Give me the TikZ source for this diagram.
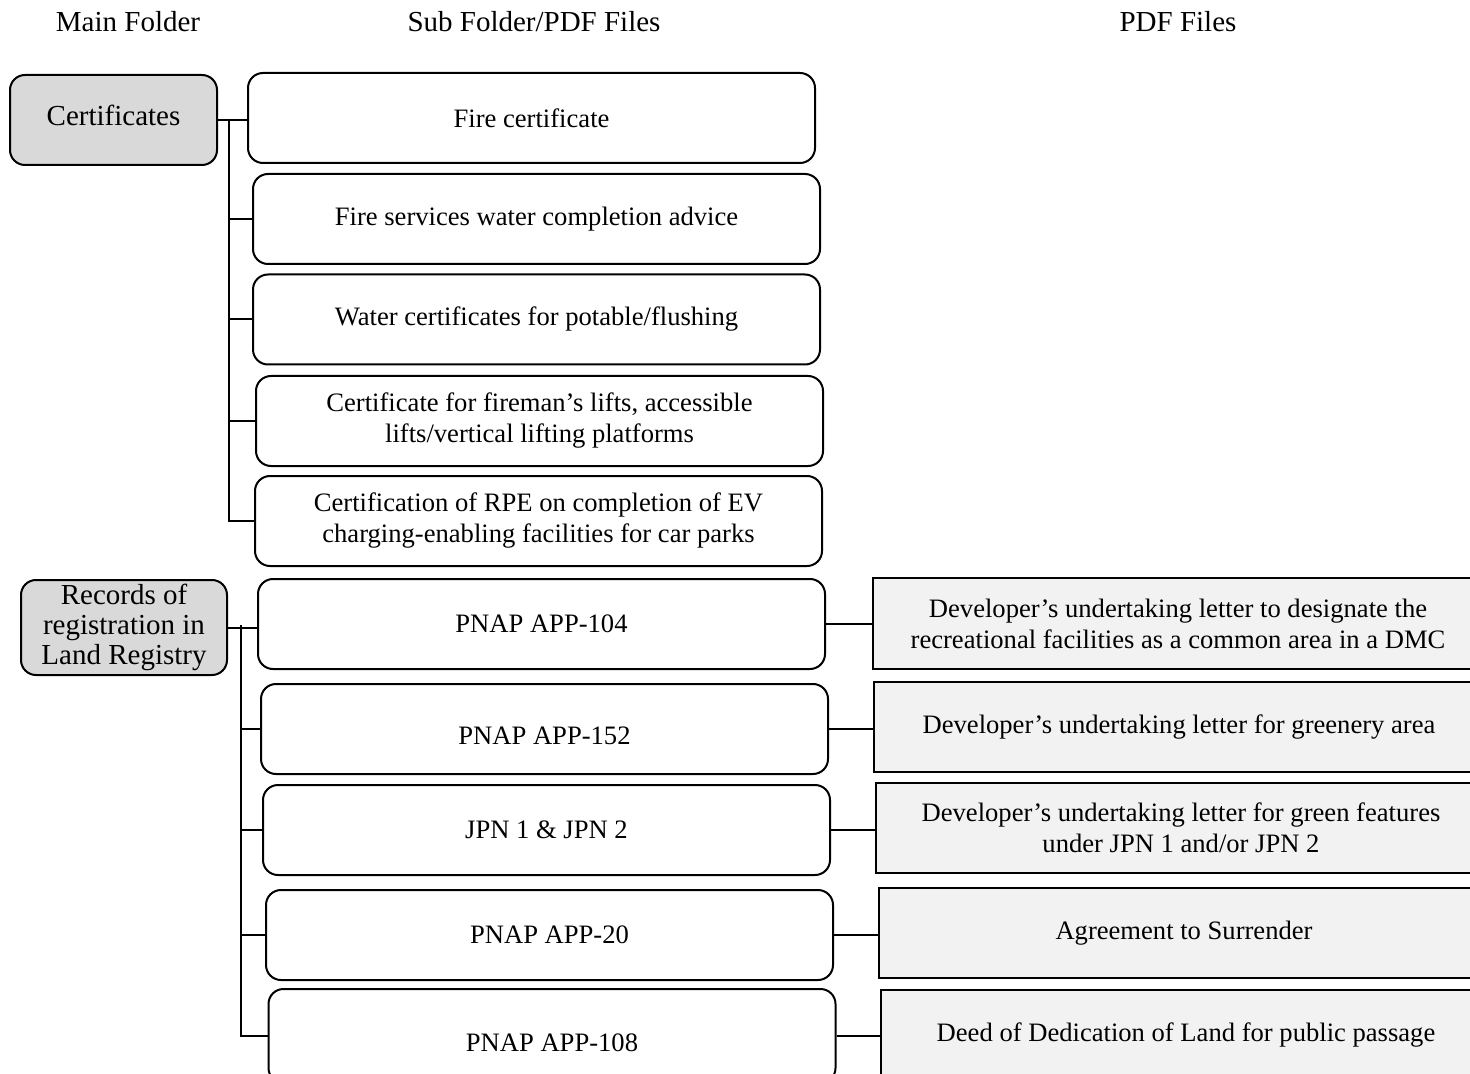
\documentclass[tikz,border=0pt]{standalone}
\usepackage{fontspec}
\setmainfont{Liberation Serif}
\usepackage{xcolor}
\definecolor{mainfill}{HTML}{D9D9D9}
\definecolor{pdffill}{HTML}{F2F2F2}
\begin{document}
\begin{tikzpicture}[x=0.5pt,y=-0.5pt]
			\tikzstyle{header} = [font=\fontsize{14.5}{15}\selectfont]
			\tikzstyle{mainbox} = [draw=black,line width=1pt,fill=mainfill,rounded corners=7.5pt,align=center,inner sep=0pt,font=\fontsize{14.5}{15}\selectfont]
			\tikzstyle{subbox} = [draw=black,line width=1pt,fill=white,rounded corners=7.5pt,align=center,inner sep=0pt,minimum width=283.5pt,minimum height=45pt,font=\fontsize{13.3}{15.5}\selectfont]
			\tikzstyle{pdfbox} = [draw=black,line width=1pt,fill=pdffill,align=center,inner sep=0pt,minimum width=305pt,minimum height=45pt,font=\fontsize{13.3}{15.5}\selectfont]
			\tikzstyle{edge} = [-,line width=1pt]
			\useasboundingbox (0,0) rectangle (1470,1074);
			\clip (0,0) rectangle (1470,1074);
			% column titles
			\node[header] (h1) at (128,22) {Main Folder};
			\node[header] (h2) at (534,22) {Sub Folder/PDF Files};
			\node[header] (h3) at (1178,22) {PDF Files};
			% main folders
			\node[mainbox,minimum width=103.5pt,minimum height=45pt,text depth=5pt] (m1) at (113.5,120) {Certificates};
			\node[mainbox,minimum width=103pt,minimum height=47.5pt] (m2) at (124,627.5) {Records of\\registration in\\Land Registry};
			% sub folders
			\node[subbox] (s1) at (531.5,118) {Fire certificate};
			\node[subbox] (s2) at (536.5,219) {Fire services water completion advice};
			\node[subbox] (s3) at (536.5,319.5) {Water certificates for potable/flushing};
			\node[subbox] (s4) at (539.5,421) {Certificate for fireman's lifts, accessible\\lifts/vertical lifting platforms};
			\node[subbox] (s5) at (538.5,521) {Certification of RPE on completion of EV\\charging-enabling facilities for car parks};
			\node[subbox] (s6) at (541.5,624) {PNAP APP-104};
			\node[subbox,text height=16pt] (s7) at (544.5,729) {PNAP APP-152};
			\node[subbox] (s8) at (546.5,830) {JPN 1 \& JPN 2};
			\node[subbox] (s9) at (549.5,935) {PNAP APP-20};
			\node[subbox,minimum height=47pt,text height=16pt] (s10) at (552,1036) {PNAP APP-108};
			% pdf files
			\node[pdfbox,minimum height=45.5pt] (p1) at (1178,623.5) {Developer's undertaking letter to designate the\\recreational facilities as a common area in a DMC};
			\node[pdfbox] (p2) at (1179,727) {Developer's undertaking letter for greenery area};
			\node[pdfbox] (p3) at (1181,828) {Developer's undertaking letter for green features\\under JPN 1 and/or JPN 2};
			\node[pdfbox] (p4) at (1184,933) {Agreement to Surrender};
			\node[pdfbox] (p5) at (1186,1035) {Deed of Dedication of Land for public passage};
			% tree lines
			\coordinate (t1) at (229,120);
			\coordinate (t2) at (241,625);
			\draw[edge] (m1.east) -- (m1.east -| s1.west);
			\draw[edge] (m2.east) -- (m2.east -| s6.west);
			\foreach \s in {s2,s3,s4,s5}
				\draw[edge] (t1) |- (\s.west);
			\foreach \s in {s7,s8,s9,s10}
				\draw[edge] (t2) |- (\s.west);
			\draw[edge] (s6.east) -- (s6.east -| p1.west);
			\draw[edge] (s7.east) -- (s7.east -| p2.west);
			\draw[edge] (s8.east) -- (s8.east -| p3.west);
			\draw[edge] (s9.east) -- (s9.east -| p4.west);
			\draw[edge] (s10.east) -- (s10.east -| p5.west);
\end{tikzpicture}
\end{document}
